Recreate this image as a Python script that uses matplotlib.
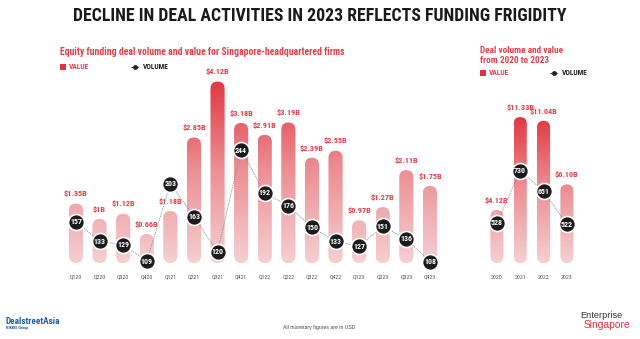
import numpy as np
import matplotlib
matplotlib.use("Agg")
import matplotlib.pyplot as plt
from matplotlib import font_manager
from matplotlib.patches import FancyBboxPatch, Rectangle
from matplotlib.lines import Line2D
from matplotlib.colors import LinearSegmentedColormap

# DATA
quarters = ["Q120", "Q220", "Q320", "Q420", "Q121", "Q221", "Q321", "Q421",
            "Q122", "Q222", "Q322", "Q422", "Q123", "Q223", "Q323", "Q423"]
q_value = [1.35, 1.00, 1.12, 0.66, 1.18, 2.85, 4.12, 3.18,
           2.91, 3.19, 2.39, 2.55, 0.97, 1.27, 2.11, 1.75]
q_value_labels = ["$1.35B", "$1B", "$1.12B", "$0.66B", "$1.18B", "$2.85B", "$4.12B", "$3.18B",
                  "$2.91B", "$3.19B", "$2.39B", "$2.55B", "$0.97B", "$1.27B", "$2.11B", "$1.75B"]
q_volume = [157, 133, 129, 109, 203, 163, 120, 244,
            192, 176, 150, 133, 127, 151, 136, 108]

years = ["2020", "2021", "2022", "2023"]
y_value = [4.12, 11.33, 11.04, 6.10]
y_value_labels = ["$4.12B", "$11.33B", "$11.04B", "$6.10B"]
y_volume = [528, 730, 651, 522]

# fonts: prefer a narrow face, else Liberation Sans (narrower than DejaVu)
names = {f.name for f in font_manager.fontManager.ttflist}
COND = "DejaVu Sans"
for cand in ["Liberation Sans Narrow", "Roboto Condensed", "Open Sans Condensed", "Liberation Sans"]:
    if cand in names:
        COND = cand
        break
REG = "Liberation Sans" if "Liberation Sans" in names else "DejaVu Sans"

RED = "#e0313c"
LBL_RED = "#e2404a"
grad_cmap = LinearSegmentedColormap.from_list("g", ["#f5d0d2", "#ec8e93", "#e0313c"])

W, H = 640, 339
fig = plt.figure(figsize=(6.4, 3.39), dpi=100)
fig.patch.set_facecolor("white")
renderer = fig.canvas.get_renderer()


def fx(px):
    return px / W


def fy(py):
    return 1 - py / H


def size_for(s, target_px, **kw):
    # font size that makes string s about target_px wide
    t = fig.text(0, 0, s, fontsize=10, **kw)
    w = t.get_window_extent(renderer).width
    t.remove()
    return 10 * target_px / w


bold = dict(family=COND, fontweight="bold")
VAL_FS = size_for("$1.35B", 24, **bold)
VOL_FS = size_for("157", 12, **bold)
TICK_FS = size_for("Q120", 12, family=COND)
LEG_FS = size_for("VOLUME", 26, **bold)


def draw_panel(left_px, right_px, labels, values, vlabels, volumes,
               xlim, ylim, vlim, bar_w, grad_top):
    top_px, bot_px = 60, 263
    ax = fig.add_axes([fx(left_px), fy(bot_px), (right_px - left_px) / W, (bot_px - top_px) / H])
    ax.set_facecolor("none")
    x = np.arange(len(labels))
    # aspect to keep rounded ends circular in pixels
    xpp = (xlim[1] - xlim[0]) / (right_px - left_px)
    ypp = (ylim[1] - ylim[0]) / (bot_px - top_px)
    asp = ypp / xpp
    grad = np.linspace(0, 1, 256).reshape(-1, 1)
    for i, v in enumerate(values):
        patch = FancyBboxPatch((x[i] - bar_w / 2, 0), bar_w, v,
                               boxstyle=f"round,pad=0,rounding_size={bar_w / 2}",
                               mutation_aspect=asp, facecolor="none", edgecolor="none")
        ax.add_patch(patch)
        im = ax.imshow(grad, extent=[x[i] - bar_w / 2, x[i] + bar_w / 2, 0, grad_top],
                       origin="lower", cmap=grad_cmap, aspect="auto", vmin=0, vmax=1, zorder=2)
        im.set_clip_path(patch)
        ax.annotate(vlabels[i], (x[i], v), xytext=(0, 4.5), textcoords="offset points",
                    ha="center", va="bottom", fontsize=VAL_FS, color=LBL_RED, **bold)
    ax.set_xlim(*xlim)
    ax.set_ylim(*ylim)
    ax.set_xticks(x)
    ax.set_xticklabels(labels, fontsize=TICK_FS, color="#555555", family=COND)
    ax.tick_params(axis="x", length=0, pad=8.5)
    ax.set_yticks([])
    for s in ax.spines.values():
        s.set_visible(False)

    ax2 = ax.twinx()
    ax2.set_ylim(*vlim)
    ax2.plot(x, volumes, color="#8a939c", lw=0.6, ls=(0, (1.5, 1)), zorder=1)
    ax2.plot(x, volumes, "o", ms=11.5, mfc="#1b1b1b", mec="white", mew=1.2,
             clip_on=False, zorder=3)
    for i, v in enumerate(volumes):
        ax2.text(x[i], v, str(v), ha="center", va="center", fontsize=VOL_FS,
                 color="white", zorder=4, **bold)
    ax2.set_yticks([])
    for s in ax2.spines.values():
        s.set_visible(False)
    return ax


# left panel: quarterly
draw_panel(50, 450, quarters, q_value, q_value_labels, q_volume,
           xlim=(-1.10, 15.85), ylim=(0, 4.61), vlim=(106.6, 353.5),
           bar_w=0.6, grad_top=4.3)

# right panel: yearly
draw_panel(475, 590, years, y_value, y_value_labels, y_volume,
           xlim=(-0.94, 3.99), ylim=(0, 15.76), vlim=(372, 1160),
           bar_w=0.56, grad_top=11.8)

# title
title = "DECLINE IN DEAL ACTIVITIES IN 2023 REFLECTS FUNDING FRIGIDITY"
fig.text(fx(320), fy(16), title, ha="center", va="center",
         fontsize=size_for(title, 492, **bold), color="#1a1a1a", **bold)

# subtitles
sub1 = "Equity funding deal volume and value for Singapore-headquartered firms"
SUB_FS = size_for(sub1, 284, **bold)
fig.text(fx(60), fy(52), sub1, ha="left", va="center", fontsize=SUB_FS, color=LBL_RED, **bold)
fig.text(fx(480), fy(50.5), "Deal volume and value", ha="left", va="center",
         fontsize=SUB_FS * 0.95, color=LBL_RED, **bold)
fig.text(fx(480), fy(60.5), "from 2020 to 2023", ha="left", va="center",
         fontsize=SUB_FS * 0.95, color=LBL_RED, **bold)


# legends
def legend(x0, xv, yl):
    fig.add_artist(Rectangle((fx(x0), fy(yl + 3)), 6 / W, 6 / H, transform=fig.transFigure,
                             facecolor=RED, edgecolor="none"))
    fig.text(fx(x0 + 9), fy(yl), "VALUE", ha="left", va="center", fontsize=LEG_FS,
             color=LBL_RED, **bold)
    fig.add_artist(Line2D([fx(xv), fx(xv + 4), fx(xv + 8)], [fy(yl)] * 3,
                          transform=fig.transFigure, color="#222222", lw=0.8,
                          ls=(0, (1.5, 1)), marker="o", ms=2.5, markevery=[1]))
    fig.text(fx(xv + 12), fy(yl), "VOLUME", ha="left", va="center", fontsize=LEG_FS,
             color="#222222", **bold)


legend(60, 131, 67)
legend(480, 550, 73)

# footer
fig.text(fx(5), fy(321), "DealstreetAsia", ha="left", va="center",
         fontsize=size_for("DealstreetAsia", 55, **bold), color="#1d5fa6", **bold)
fig.text(fx(6), fy(328), "NIKKEI Group", ha="left", va="center", fontsize=3,
         color="#1d5fa6", **bold)
foot = "All monetary figures are in USD"
fig.text(fx(319), fy(328), foot, ha="center", va="center",
         fontsize=size_for(foot, 72, family=REG), color="#444444", family=REG)
fig.text(fx(580), fy(315.5), "Enterprise", ha="left", va="center",
         fontsize=size_for("Enterprise", 42, family=REG), color="#333333", family=REG)
fig.text(fx(584), fy(325.5), "Singapore", ha="left", va="center",
         fontsize=size_for("Singapore", 47, family=REG), color="#e0313c", family=REG)

fig.savefig("out.png", dpi=100, facecolor="white")
